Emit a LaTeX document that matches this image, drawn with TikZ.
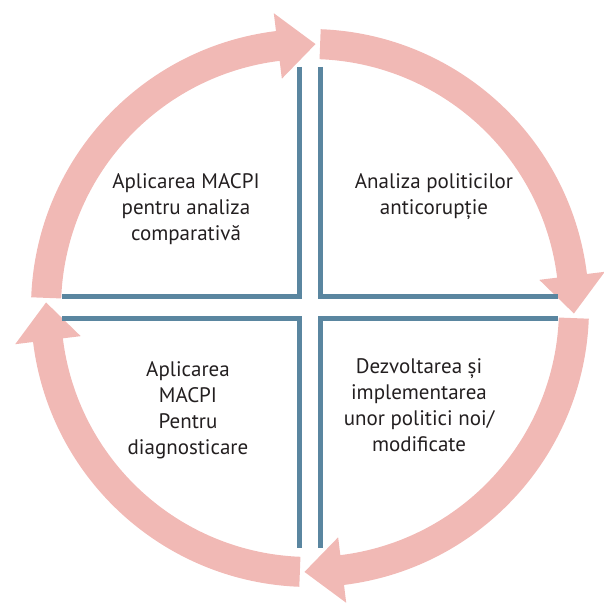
\documentclass[tikz,border=0pt]{standalone}
\usepackage{fontspec}
\setmainfont{PT Sans}
\definecolor{cyclepink}{RGB}{241,185,181}
\definecolor{framblue}{RGB}{90,134,160}
\definecolor{textgray}{RGB}{35,31,32}
\begin{document}
\begin{tikzpicture}[scale=0.017573,
    band/.style={fill=cyclepink, draw=none},
    frame/.style={framblue, line width=2.5pt, line cap=butt, line join=miter},
    stage/.style={align=center, text=textgray, font=\fontsize{10.5}{13}\selectfont}]

  % Page frame (reference proportions)
  \useasboundingbox (-310,-295) rectangle (294,308);

  % 1. Cycle arrows (clockwise, one per quarter)
  \foreach \c [evaluate=\c as \s using \c+87.8,
               evaluate=\c as \b using \c+7,
               evaluate=\c as \t using \c-1.2] in {90,0,-90,-180}
    \fill[band] (\s:279) arc[start angle=\s, end angle=\b, radius=279]
      -- (\b:297) -- (\t:264) -- (\b:231) -- (\b:249)
      arc[start angle=\b, end angle=\s, radius=249] -- cycle;

  % 2. Quadrant corners (blue)
  \draw[frame] (-10.5,241) -- (-10.5,11.5) -- (-248,11.5);
  \draw[frame] (10.5,241) -- (10.5,11.5) -- (248,11.5);
  \draw[frame] (-248,-10.5) -- (-10.5,-10.5) -- (-10.5,-240);
  \draw[frame] (248,-10.5) -- (10.5,-10.5) -- (10.5,-240);

  % 3. Stage labels
  \node[stage] (comparativa) at (-124,99) {Aplicarea MACPI\\pentru analiza\\comparativă};
  \node[stage] (analiza) at (124,111) {Analiza politicilor\\anticorupție};
  \node[stage] (dezvoltare) at (109,-97) {Dezvoltarea și\\implementarea\\unor politici noi/\\modificate};
  \node[stage] (diagnostic) at (-122,-102) {Aplicarea\\MACPI\\Pentru\\diagnosticare};
\end{tikzpicture}
\end{document}
